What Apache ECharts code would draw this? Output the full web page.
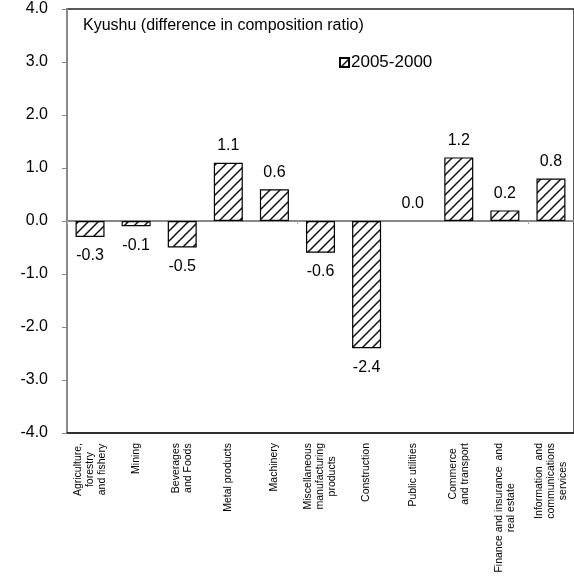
<!DOCTYPE html>
<html>
<head>
<meta charset="utf-8">
<script src="https://cdn.jsdelivr.net/npm/echarts@6/dist/echarts.min.js"></script>
<style>
  html, body { margin: 0; padding: 0; background: #fff; }
  #chart { width: 574px; height: 580px; }
</style>
</head>
<body>
<div id="chart"></div>
<script>
// Kyushu: change in industry composition ratio, 2005 vs 2000 (percentage points)
const categories = [
  'Agriculture,\nforestry\nand fishery',
  'Mining',
  'Beverages\nand Foods',
  'Metal products',
  'Machinery',
  'Miscellaneous\nmanufacturing\nproducts',
  'Construction',
  'Public utilities',
  'Commerce\nand transport',
  'Finance and insurance  and\nreal estate',
  'Information  and\ncommunications\nservices'
];
const seriesName = '2005-2000';
const values = [-0.3, -0.1, -0.5, 1.1, 0.6, -0.6, -2.4, 0.0, 1.2, 0.2, 0.8];
const yTicks = { min: -4, max: 4, step: 1 };
const titleText = 'Kyushu (difference in composition ratio)';

const FONT = "'Liberation Sans', Arial, sans-serif";

// Diagonal "/" hatch tile used as the bar fill
function hatchTile() {
  const s = 10;
  const c = document.createElement('canvas');
  c.width = s; c.height = s;
  const g = c.getContext('2d');
  g.fillStyle = '#fff';
  g.fillRect(0, 0, s, s);
  g.strokeStyle = '#111';
  g.lineWidth = 1.5;
  g.beginPath();
  g.moveTo(-2, s + 2); g.lineTo(s + 2, -2);
  g.moveTo(-2, 2); g.lineTo(2, -2);
  g.moveTo(s - 2, s + 2); g.lineTo(s + 2, s - 2);
  g.stroke();
  return c;
}
const hatch = { image: hatchTile(), repeat: 'repeat' };

const chart = echarts.init(document.getElementById('chart'), null, { renderer: 'canvas' });

const barData = values.map(v => ({
  value: v,
  itemStyle: v === 0 ? { borderWidth: 0 } : undefined,
  label: v >= 0
    ? { position: 'top', distance: 9 }
    : { position: 'bottom', distance: 11 }
}));

chart.setOption({
  animation: false,
  backgroundColor: '#fff',
  textStyle: { fontFamily: FONT },
  title: {
    text: titleText,
    left: 78,
    top: 13,
    textStyle: { fontFamily: FONT, fontSize: 16, fontWeight: 'normal', color: '#000' }
  },
  legend: {
    data: [seriesName],
    left: 334,
    top: 49,
    icon: 'rect',
    itemWidth: 9,
    itemHeight: 9,
    itemGap: 2,
    textStyle: { fontFamily: FONT, fontSize: 17, color: '#000', padding: [0, 0, 0, -3] }
  },
  grid: {
    left: 67,
    right: -2,
    top: 9,
    bottom: 147,
    show: true,
    borderColor: '#222',
    borderWidth: 1.5,
    backgroundColor: 'transparent'
  },
  xAxis: [
    {
      type: 'category',
      data: categories,
      position: 'bottom',
      axisLine: { onZero: false, lineStyle: { color: '#222', width: 1.5 } },
      axisTick: { show: false },
      axisLabel: {
        interval: 0,
        rotate: 90,
        margin: 10,
        color: '#000',
        formatter: v => '{a|' + v + '}',
        rich: {
          a: { fontFamily: FONT, fontSize: 10.5, lineHeight: 12, align: 'center', color: '#000' }
        }
      },
      splitLine: { show: false }
    },
    {
      type: 'category',
      data: categories,
      position: 'bottom',
      axisLine: { onZero: true, lineStyle: { color: '#888', width: 2 } },
      axisTick: { show: true, length: 3, lineStyle: { color: '#aaa', width: 1 } },
      axisLabel: { show: false },
      splitLine: { show: false }
    }
  ],
  yAxis: {
    type: 'value',
    min: yTicks.min,
    max: yTicks.max,
    interval: yTicks.step,
    axisLine: { show: true, lineStyle: { color: '#888', width: 2 } },
    axisTick: { show: true, length: 5, lineStyle: { color: '#888', width: 1 } },
    splitLine: { show: false },
    axisLabel: {
      margin: 19,
      fontFamily: FONT,
      fontSize: 16,
      color: '#000',
      formatter: v => v.toFixed(1)
    }
  },
  series: [{
    name: seriesName,
    type: 'bar',
    xAxisIndex: 0,
    data: barData,
    barWidth: 29,
    itemStyle: { color: hatch, borderColor: '#000', borderWidth: 1.2 },
    label: {
      show: true,
      fontFamily: FONT,
      fontSize: 16,
      color: '#000',
      formatter: p => Number(p.value).toFixed(1)
    }
  }]
});
</script>
</body>
</html>
